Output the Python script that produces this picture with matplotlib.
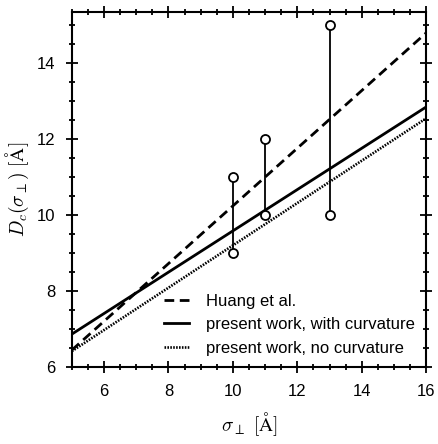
import numpy as np
import matplotlib
matplotlib.use("Agg")
import matplotlib.pyplot as plt
from matplotlib.ticker import MultipleLocator

plt.rcParams["font.family"] = ["Liberation Sans", "DejaVu Sans"]
plt.rcParams["mathtext.fontset"] = "cm"

# line endpoints at sigma = 5 and 16
sigma = [5, 16]
huang = [6.45, 14.8]
with_curv = [6.87, 12.85]
no_curv = [6.42, 12.55]

# simulation ranges (open circles joined by a bar)
sim_sigma = [10, 11, 13]
sim_low = [9, 10, 10]
sim_high = [11, 12, 15]

fig = plt.figure(figsize=(4.38, 4.44), dpi=100)
ax = fig.add_axes([0.164, 0.173, 0.809, 0.80])

ax.plot(sigma, huang, "k--", lw=2, dashes=(3.5, 2), label="Huang et al.")
ax.plot(sigma, with_curv, "k-", lw=2, label="present work, with curvature")
ax.plot(sigma, no_curv, "k-", lw=1.9, dashes=(0.6, 0.5),
        label="present work, no curvature")

for s, lo, hi in zip(sim_sigma, sim_low, sim_high):
    ax.plot([s, s], [lo, hi], "k-", lw=1.3, marker="o", ms=6.5,
            mfc="white", mec="black", mew=1.3, zorder=3)

ax.set_xlim(5, 16)
ax.set_ylim(6, 15.35)
ax.xaxis.set_major_locator(MultipleLocator(2))
ax.xaxis.set_minor_locator(MultipleLocator(0.5))
ax.yaxis.set_major_locator(MultipleLocator(2))
ax.yaxis.set_minor_locator(MultipleLocator(0.5))
ax.tick_params(which="both", direction="inout", top=True, right=True,
               labelsize=12, width=1.3, pad=8)
ax.tick_params(which="major", length=8)
ax.tick_params(which="minor", length=5)
for sp in ax.spines.values():
    sp.set_linewidth(1.5)

ax.set_xlabel(r"$\sigma_\perp\ [\mathrm{\AA}]$", fontsize=14, labelpad=8)
ax.set_ylabel(r"$D_c(\sigma_\perp)\ [\mathrm{\AA}]$", fontsize=14, labelpad=4)

ax.legend(loc="lower right", frameon=False, fontsize=12, handlelength=1.5,
          handletextpad=1.0, borderaxespad=0.3, labelspacing=0.5)

fig.savefig("out.png", dpi=100)
